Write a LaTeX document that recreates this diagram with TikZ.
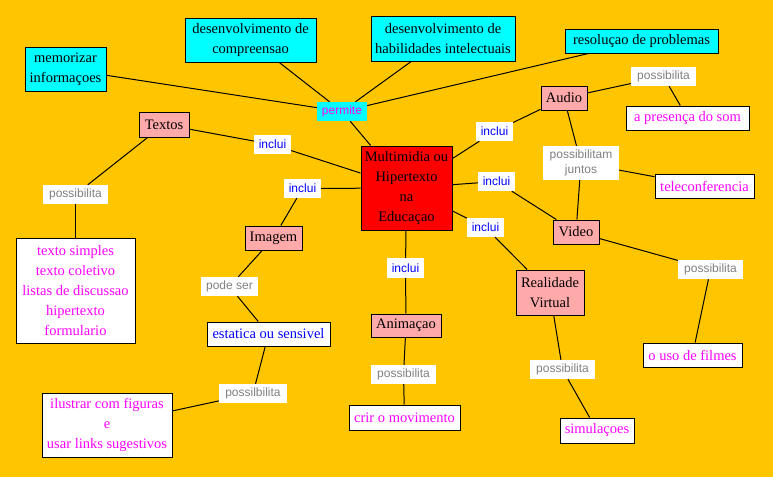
\documentclass[tikz,border=0pt]{standalone}
\usepackage{fontspec}
\setmainfont{Liberation Serif}
\newfontfamily\labfont{Liberation Sans}
\definecolor{bg}{RGB}{255,198,0}
\definecolor{pinkc}{RGB}{255,170,170}
\definecolor{cyanc}{RGB}{0,255,255}
\definecolor{redc}{RGB}{255,0,0}
\definecolor{magc}{RGB}{255,0,255}
\definecolor{bluec}{RGB}{0,0,255}
\definecolor{grayc}{RGB}{128,128,128}
\tikzset{
  base/.style={draw=black, line width=1pt, inner sep=0pt, align=center, font=\fontsize{14.5}{20}\selectfont},
  cbox/.style={base, fill=cyanc},
  pbox/.style={base, fill=pinkc},
  wbox/.style={base, fill=white, text=magc},
  lbl/.style={fill=white, inner sep=0pt, align=center, font=\labfont\fontsize{12}{15}\selectfont},
  inclbl/.style={lbl, text=bluec, minimum width=37pt, minimum height=19pt},
  poslbl/.style={lbl, text=grayc, minimum width=65pt, minimum height=19pt},
  conn/.style={line width=1pt}
}
\begin{document}
\begin{tikzpicture}[x=1pt,y=-1pt]
\fill[bg] (0,0) rectangle (773,477);
\useasboundingbox (0,0) rectangle (773,477);
% top cyan boxes
\node[cbox, minimum width=81pt, minimum height=44pt] (mem) at (65.5,69) {memorizar\\informaçoes};
\node[cbox, minimum width=131pt, minimum height=44pt] (comp) at (250.5,40) {desenvolvimento de\\compreensao};
\node[cbox, minimum width=144pt, minimum height=45pt] (hab) at (443,38.5) {desenvolvimento de\\habilidades intelectuais};
\node[cbox, minimum width=153pt, minimum height=24pt] (reso) at (641.5,41) {resoluçao de problemas};
\node[lbl, fill=cyanc, text=magc, minimum width=50pt, minimum height=19pt] (permite) at (342,111.5) {permite};
% center
\node[base, fill=redc, minimum width=91pt, minimum height=84pt] (multi) at (406.5,188) {Multimidia ou\\Hipertexto\\na\\Educaçao};
% Textos branch
\node[pbox, minimum width=50pt, minimum height=25pt] (textos) at (164,124.5) {Textos};
\node[inclbl] (inctex) at (272.5,144.5) {inclui};
\node[poslbl] (postex) at (75.5,194.5) {possibilita};
\node[wbox, minimum width=119pt, minimum height=105pt] (textbox) at (75.5,290.5) {texto simples\\texto coletivo\\listas de discussao\\hipertexto\\formulario};
% Imagem branch
\node[inclbl] (incimg) at (302.5,188.5) {inclui};
\node[pbox, minimum width=57pt, minimum height=24pt] (imagem) at (273.5,238) {Imagem};
\node[lbl, text=grayc, minimum width=57pt, minimum height=19pt] (podeser) at (229.5,286.5) {pode ser};
\node[base, fill=white, text=bluec, minimum width=123pt, minimum height=24pt] (estatica) at (268.5,334) {estatica ou sensivel};
\node[lbl, text=grayc, minimum width=68pt, minimum height=19pt] (possil) at (253,393.5) {possilbilita};
\node[wbox, minimum width=130pt, minimum height=64pt] (ilustrar) at (107,425) {ilustrar com figuras\\e\\usar links sugestivos};
% Animacao branch
\node[inclbl, minimum height=20pt] (incanim) at (405.5,268) {inclui};
\node[pbox, minimum width=70pt, minimum height=23pt] (anim) at (406,325.5) {Animaçao};
\node[poslbl] (posanim) at (403.5,374.5) {possibilita};
\node[wbox, minimum width=111pt, minimum height=25pt] (crir) at (404.5,417.5) {crir o movimento};
% Audio branch
\node[inclbl] (incaud) at (494.5,131.5) {inclui};
\node[pbox, minimum width=46pt, minimum height=24pt] (audio) at (564,98) {Audio};
\node[poslbl] (posaud) at (663.5,76.5) {possibilita};
\node[wbox, minimum width=123pt, minimum height=24pt] (presenca) at (687.5,118) {a presença do som};
\node[lbl, text=grayc, minimum width=76pt, minimum height=34pt] (juntos) at (581,163) {possibilitam\\juntos};
\node[wbox, minimum width=99pt, minimum height=24pt] (tele) at (704.5,186) {teleconferencia};
% Video branch
\node[inclbl] (incvid) at (496.5,181.5) {inclui};
\node[pbox, minimum width=46pt, minimum height=24pt] (video) at (576,232) {Video};
\node[poslbl] (posvid) at (710.5,269.5) {possibilita};
\node[wbox, minimum width=99pt, minimum height=24pt] (filmes) at (692.5,355) {o uso de filmes};
% Realidade Virtual branch
\node[inclbl] (incrv) at (485.5,227.5) {inclui};
\node[pbox, minimum width=68pt, minimum height=45pt] (rv) at (550,292.5) {Realidade\\Virtual};
\node[poslbl] (posrv) at (562.5,369.5) {possibilita};
\node[wbox, minimum width=74pt, minimum height=25pt] (simul) at (597,430.5) {simulaçoes};
% connectors
\draw[conn] (mem) -- (permite);
\draw[conn] (comp) -- (permite);
\draw[conn] (hab) -- (permite);
\draw[conn] (reso) -- (permite);
\draw[conn] (permite) -- (multi);
\draw[conn] (textos) -- (inctex);
\draw[conn] (inctex) -- (multi);
\draw[conn] (textos) -- (postex);
\draw[conn] (postex) -- (textbox);
\draw[conn] (multi) -- (incimg);
\draw[conn] (incimg) -- (imagem);
\draw[conn] (imagem) -- (podeser);
\draw[conn] (podeser) -- (estatica);
\draw[conn] (estatica) -- (possil);
\draw[conn] (possil) -- (ilustrar);
\draw[conn] (multi) -- (incanim);
\draw[conn] (incanim) -- (anim);
\draw[conn] (anim) -- (posanim);
\draw[conn] (posanim) -- (crir);
\draw[conn] (multi) -- (incaud);
\draw[conn] (incaud) -- (audio);
\draw[conn] (audio) -- (posaud);
\draw[conn] (posaud) -- (presenca);
\draw[conn] (audio) -- (juntos);
\draw[conn] (juntos) -- (tele);
\draw[conn] (juntos) -- (video);
\draw[conn] (multi) -- (incvid);
\draw[conn] (incvid) -- (video);
\draw[conn] (video) -- (posvid);
\draw[conn] (posvid) -- (filmes);
\draw[conn] (multi) -- (incrv);
\draw[conn] (incrv) -- (rv);
\draw[conn] (rv) -- (posrv);
\draw[conn] (posrv) -- (simul);
\end{tikzpicture}
\end{document}
